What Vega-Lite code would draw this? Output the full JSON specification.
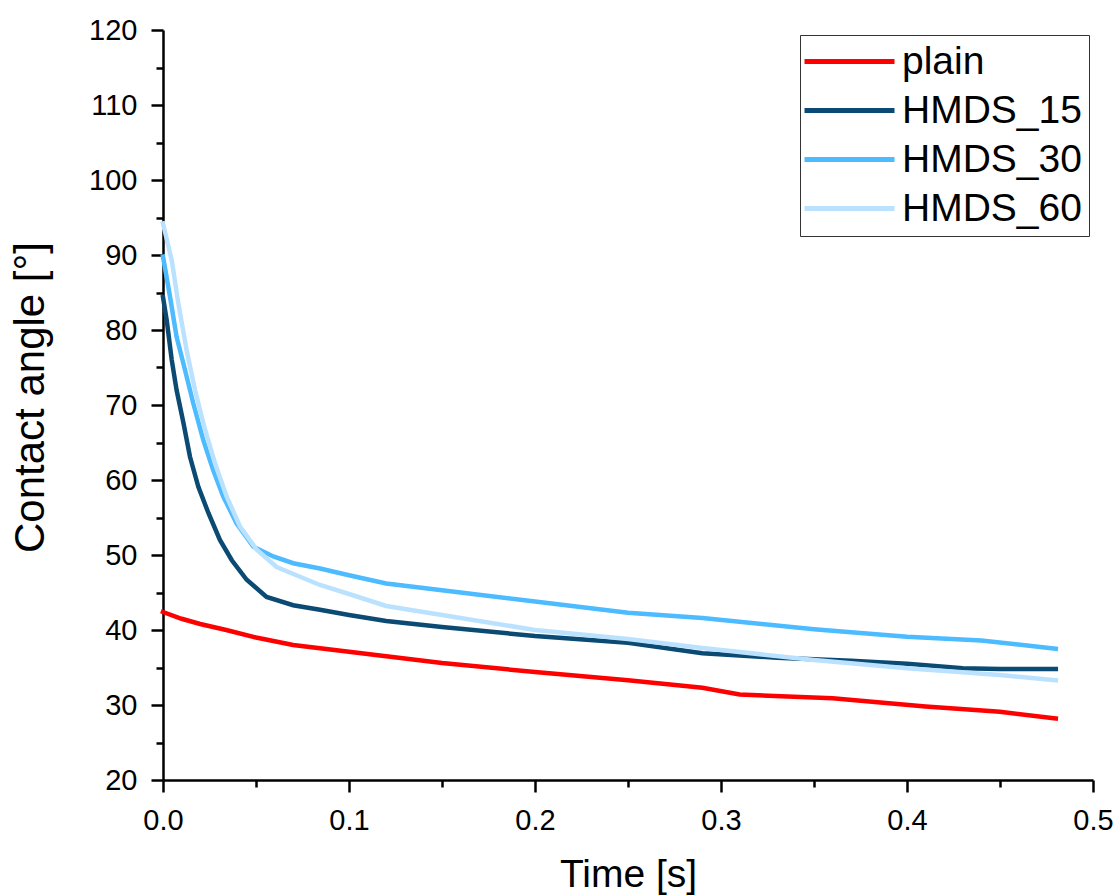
{
  "$schema": "https://vega.github.io/schema/vega-lite/v6.json",
  "autosize": "none",
  "padding": {"left": 163, "top": 30, "right": 24, "bottom": 115},
  "width": 930,
  "height": 750,
  "background": "white",
  "config": {
    "view": {"stroke": null},
    "font": "Liberation Sans"
  },
  "datasets": {
    "plain": [
      {"t": 0, "v": 42.4}, {"t": 0.01, "v": 41.5}, {"t": 0.02, "v": 40.8}, {"t": 0.034, "v": 40.0},
      {"t": 0.05, "v": 39.0}, {"t": 0.07, "v": 38.0}, {"t": 0.1, "v": 37.1}, {"t": 0.15, "v": 35.6},
      {"t": 0.2, "v": 34.4}, {"t": 0.25, "v": 33.3}, {"t": 0.29, "v": 32.3}, {"t": 0.31, "v": 31.4},
      {"t": 0.36, "v": 30.9}, {"t": 0.41, "v": 29.8}, {"t": 0.45, "v": 29.1}, {"t": 0.48, "v": 28.2}
    ],
    "h15": [
      {"t": 0, "v": 84.4}, {"t": 0.002, "v": 81.3}, {"t": 0.0047, "v": 76}, {"t": 0.0073, "v": 72},
      {"t": 0.011, "v": 67.6}, {"t": 0.0145, "v": 63.1}, {"t": 0.019, "v": 59.1}, {"t": 0.0244, "v": 55.6},
      {"t": 0.0306, "v": 52}, {"t": 0.037, "v": 49.3}, {"t": 0.045, "v": 46.7}, {"t": 0.0557, "v": 44.4},
      {"t": 0.07, "v": 43.3}, {"t": 0.0844, "v": 42.7}, {"t": 0.1, "v": 42},
      {"t": 0.12, "v": 41.2}, {"t": 0.15, "v": 40.4}, {"t": 0.2, "v": 39.2}, {"t": 0.25, "v": 38.3},
      {"t": 0.29, "v": 36.9}, {"t": 0.33, "v": 36.3}, {"t": 0.37, "v": 35.9}, {"t": 0.4, "v": 35.5},
      {"t": 0.43, "v": 34.9}, {"t": 0.45, "v": 34.8}, {"t": 0.48, "v": 34.8}
    ],
    "h30": [
      {"t": 0, "v": 89.8}, {"t": 0.0038, "v": 84.4}, {"t": 0.0073, "v": 79.1}, {"t": 0.0118, "v": 74.7},
      {"t": 0.0163, "v": 70.2}, {"t": 0.0217, "v": 65.3}, {"t": 0.027, "v": 61.3}, {"t": 0.0324, "v": 57.8},
      {"t": 0.0396, "v": 54.2}, {"t": 0.0486, "v": 51.1}, {"t": 0.0593, "v": 49.8}, {"t": 0.07, "v": 48.9},
      {"t": 0.0844, "v": 48.2}, {"t": 0.1, "v": 47.3},
      {"t": 0.12, "v": 46.2}, {"t": 0.15, "v": 45.3}, {"t": 0.2, "v": 43.8}, {"t": 0.25, "v": 42.3},
      {"t": 0.29, "v": 41.6}, {"t": 0.35, "v": 40.1}, {"t": 0.4, "v": 39.1}, {"t": 0.44, "v": 38.6},
      {"t": 0.48, "v": 37.5}
    ],
    "h60": [
      {"t": 0, "v": 94.2}, {"t": 0.0047, "v": 89.3}, {"t": 0.0082, "v": 83.6}, {"t": 0.0127, "v": 77.3},
      {"t": 0.0172, "v": 72}, {"t": 0.0226, "v": 66.7}, {"t": 0.028, "v": 62.2}, {"t": 0.0342, "v": 57.8},
      {"t": 0.0414, "v": 53.8}, {"t": 0.0504, "v": 50.7}, {"t": 0.0611, "v": 48.4}, {"t": 0.0737, "v": 47.1},
      {"t": 0.0844, "v": 46}, {"t": 0.1, "v": 44.8},
      {"t": 0.12, "v": 43.2}, {"t": 0.15, "v": 42}, {"t": 0.2, "v": 40}, {"t": 0.25, "v": 38.8},
      {"t": 0.29, "v": 37.6}, {"t": 0.35, "v": 36}, {"t": 0.4, "v": 34.9}, {"t": 0.45, "v": 34},
      {"t": 0.48, "v": 33.3}
    ]
  },
  "encoding": {
    "x": {
      "field": "t", "type": "quantitative",
      "scale": {"domain": [0, 0.5], "nice": false, "zero": false},
      "axis": {
        "title": "Time [s]",
        "values": [0, 0.05, 0.1, 0.15, 0.2, 0.25, 0.3, 0.35, 0.4, 0.45, 0.5],
        "labelExpr": "round(datum.value*100) % 10 === 0 ? format(datum.value, '.1f') : ''",
        "grid": false,
        "domainColor": "black", "domainWidth": 2.5,
        "tickColor": "black", "tickWidth": 2.5,
        "tickSize": {"condition": {"test": "round(datum.value*100) % 10 === 0", "value": 12}, "value": 7},
        "labelFontSize": 29, "labelColor": "black", "labelPadding": 14,
        "labelFlush": false, "labelOverlap": false,
        "titleFontSize": 39, "titleFontWeight": "normal", "titleColor": "black", "titlePadding": 20
      }
    },
    "y": {
      "field": "v", "type": "quantitative",
      "scale": {"domain": [20, 120], "nice": false, "zero": false},
      "axis": {
        "title": "Contact angle [°]",
        "values": [20, 25, 30, 35, 40, 45, 50, 55, 60, 65, 70, 75, 80, 85, 90, 95, 100, 105, 110, 115, 120],
        "labelExpr": "datum.value % 10 === 0 ? format(datum.value, 'd') : ''",
        "grid": false,
        "domainColor": "black", "domainWidth": 2.5,
        "tickColor": "black", "tickWidth": 2.5,
        "tickSize": {"condition": {"test": "datum.value % 10 === 0", "value": 12}, "value": 7},
        "labelFontSize": 29, "labelColor": "black", "labelPadding": 14,
        "labelFlush": false, "labelOverlap": false,
        "titleFontSize": 42, "titleFontWeight": "normal", "titleColor": "black", "titlePadding": 36,
        "titleY": 367
      }
    },
    "color": {
      "field": "series", "type": "nominal",
      "scale": {
        "domain": ["plain", "HMDS_15", "HMDS_30", "HMDS_60"],
        "range": ["#FF0000", "#0B4A73", "#4DBBFF", "#BAE2FF"]
      },
      "legend": {
        "title": null,
        "orient": "none",
        "legendX": 637,
        "legendY": 5,
        "symbolType": "M-3,0H3",
        "symbolSize": 900,
        "symbolStrokeWidth": 5,
        "symbolOffset": 23,
        "labelFontSize": 39,
        "labelColor": "black",
        "labelOffset": 33,
        "rowPadding": 9,
        "padding": 7,
        "strokeColor": "#333333",
        "fillColor": "white",
        "labelLimit": 300
      }
    }
  },
  "layer": [
    {
      "data": {"name": "plain"},
      "transform": [{"calculate": "'plain'", "as": "series"}],
      "mark": {"type": "line", "strokeWidth": 4.5, "strokeCap": "square"}
    },
    {
      "data": {"name": "h15"},
      "transform": [{"calculate": "'HMDS_15'", "as": "series"}],
      "mark": {"type": "line", "strokeWidth": 4.5, "strokeCap": "square"}
    },
    {
      "data": {"name": "h30"},
      "transform": [{"calculate": "'HMDS_30'", "as": "series"}],
      "mark": {"type": "line", "strokeWidth": 4.5, "strokeCap": "square"}
    },
    {
      "data": {"name": "h60"},
      "transform": [{"calculate": "'HMDS_60'", "as": "series"}],
      "mark": {"type": "line", "strokeWidth": 4.5, "strokeCap": "square"}
    }
  ]
}
